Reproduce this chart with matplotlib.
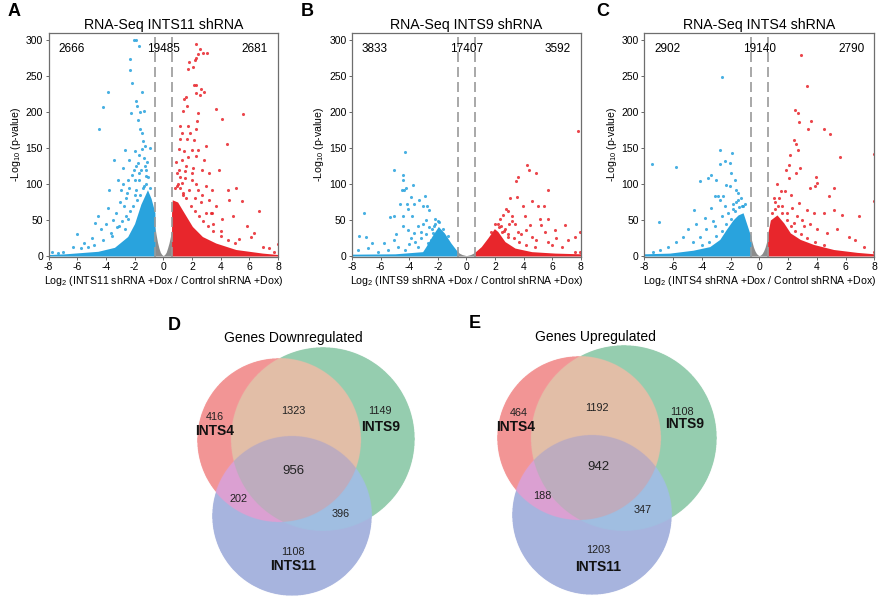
import matplotlib
matplotlib.use("Agg")
import numpy as np
import matplotlib.pyplot as plt
from matplotlib.colors import to_rgba

plt.rcParams['font.family'] = ['Liberation Sans', 'DejaVu Sans']
plt.rcParams['mathtext.fontset'] = 'custom'
plt.rcParams['mathtext.rm'] = 'Liberation Sans'
plt.rcParams['mathtext.it'] = 'Liberation Sans:italic'
plt.rcParams['axes.unicode_minus'] = False

# ---------------- data ----------------
knockdowns = ['INTS11', 'INTS9', 'INTS4']
panel_letters = ['A', 'B', 'C']
counts_down = [2666, 3833, 2902]
counts_same = [19485, 17407, 19140]
counts_up = [2681, 3592, 2790]
fc_cut = 0.58

# scattered (sparse) genes, log2 fold change and -log10 p
a_blue_x = [-2.07, -1.91, -1.72, -2.34, -2.30, -2.21, -3.82, -1.47, -4.21, -1.89, -1.84, -2.25, -1.61, -1.33,
            -4.46, -1.79, -1.63, -1.49, -2.67, -1.98, -1.29, -1.49, -3.40, -2.37, -1.79, -1.33, -2.83, -2.02,
            -1.52, -3.13, -2.48, -1.68, -1.22, -3.75, -2.94, -1.91, -1.33, -4.55, -3.86, -3.29, -2.71, -4.78,
            -4.32, -3.63, -3.06, -2.48, -6.02, -6.28, -5.70, -5.24, -7.77, -7.31, -6.97, -2.0, -1.7, -2.6,
            -2.2, -1.4, -3.0, -2.4, -1.9, -3.5, -4.0, -2.8, -5.0, -5.5, -1.1, -0.9, -1.2,
            -2.9, -2.6, -2.3, -2.1, -1.85, -1.6, -1.4, -1.2, -2.5, -2.0, -1.7, -3.2, -2.7, -3.6, -4.2, -4.8,
            -1.5, -1.05, -0.95, -1.3]
a_blue_y = [300, 300, 291, 273, 258, 240, 228, 228, 207, 215, 209, 199, 200, 201,
            177, 189, 177, 171, 147, 146, 153, 148, 134, 133, 129, 136, 122, 120,
            120, 106, 106, 106, 111, 92, 92, 92, 97, 55, 67, 60, 69, 46,
            37, 32, 41, 51, 30, 13, 11, 13, 6, 4, 6, 85, 140, 80, 112, 160, 75, 95, 125, 50, 45, 100, 25, 18,
            130, 150, 120,
            48, 55, 62, 70, 78, 85, 95, 100, 88, 105, 115, 40, 38, 28, 22, 15,
            62, 110, 95, 125]
a_red_x = [2.31, 2.54, 2.77, 3.08, 2.45, 2.19, 1.79, 2.07, 1.75, 2.31, 2.14, 2.26, 2.61, 2.84, 2.54, 2.26,
           1.61, 1.47, 1.68, 1.38, 3.66, 4.08, 5.59, 2.45, 2.33, 1.17, 1.70, 2.26, 1.33, 1.89, 1.14, 2.17,
           1.68, 2.96, 4.41, 1.10, 1.45, 1.98, 2.45, 1.28, 1.75, 2.31, 2.84, 0.98, 1.52, 2.07, 2.68, 3.19,
           3.89, 0.98, 1.33, 1.79, 2.45, 2.96, 3.43, 4.48, 5.06, 3.19, 3.66, 4.59, 5.52, 6.69, 3.43, 4.13,
           4.83, 5.87, 6.34, 7.39, 7.97, 5.29, 6.11, 6.92, 7.74, 1.2, 1.6, 2.0, 2.6, 3.0, 1.4, 2.2, 3.5, 4.0, 0.9,
           1.0, 1.2, 1.4, 1.6, 1.9, 2.2, 2.5, 2.8, 3.1, 3.5, 4.0, 4.5, 5.0, 1.1, 1.5, 2.3, 2.0, 2.7, 3.3, 0.8]
a_red_y = [294, 288, 282, 282, 280, 272, 269, 263, 260, 275, 237, 238, 232, 228, 223, 227,
           221, 218, 209, 201, 204, 190, 197, 199, 187, 181, 181, 177, 171, 171, 162, 161,
           162, 153, 156, 148, 146, 147, 147, 134, 138, 139, 134, 115, 118, 122, 120, 115,
           120, 97, 102, 92, 92, 97, 92, 92, 95, 78, 69, 78, 76, 62, 60, 51,
           55, 41, 32, 11, 16, 23, 27, 13, 6, 110, 125, 105, 75, 60, 85, 80, 45, 35, 130,
           100, 95, 88, 80, 70, 62, 55, 48, 42, 35, 28, 22, 18, 120, 108, 100, 115, 85, 60, 95]

b_blue_x = [-4.27, -5.04, -4.46, -4.41, -4.34, -3.71, -4.53, -4.22, -3.87, -3.29, -2.90, -7.18, -4.62, -4.15,
            -3.64, -3.06, -2.76, -5.09, -5.32, -4.46, -3.80, -4.06, -2.60, -7.49, -7.00, -6.62, -5.79, -5.04,
            -4.46, -4.06, -3.64, -3.17, -2.83, -7.6, -6.9, -6.2, -5.5, -4.8, -4.3, -3.4, -2.7, -2.5, -2.35,
            -2.24, -3.0, -2.2, -2.6, -1.9, -3.9, -4.9,
            -2.4, -2.2, -2.8, -3.2, -3.6, -4.0, -1.6, -1.3, -2.0, -3.4]
b_blue_y = [145, 119, 113, 105, 91, 99, 92, 95, 82, 78, 83, 60, 72, 72,
            72, 70, 69, 55, 54, 55, 55, 65, 64, 28, 27, 18, 18, 22,
            41, 36, 32, 34, 50, 8, 11, 6, 8, 13, 8, 13, 18, 22, 32,
            41, 45, 52, 40, 47, 25, 30,
            38, 45, 30, 25, 20, 16, 38, 28, 48, 42]
b_red_x = [7.84, 4.27, 4.39, 4.85, 3.64, 3.45, 5.74, 3.06, 3.52, 2.75, 2.94, 3.99, 4.57, 5.04, 5.46,
           2.36, 2.59, 3.17, 4.11, 5.16, 5.69, 6.91, 7.61, 7.96, 2.45, 3.38, 4.43, 5.25, 6.18, 5.48, 6.30,
           7.12, 3.62, 2.94, 4.57, 5.74, 6.67, 7.61, 7.96, 2.2, 2.7, 3.8, 4.9, 3.2, 4.2, 6.0, 2.5,
           2.3, 2.6, 2.9, 3.3, 3.7, 4.2, 4.8, 2.0, 1.7, 3.0]
b_red_y = [173, 126, 120, 115, 110, 104, 92, 80, 82, 65, 63, 69, 76, 69, 70,
           52, 57, 55, 55, 52, 52, 43, 27, 34, 41, 45, 43, 43, 36, 34, 25,
           22, 34, 27, 27, 20, 13, 6, 5, 45, 38, 30, 22, 48, 36, 15, 33,
           40, 35, 30, 25, 20, 15, 12, 44, 33, 45]

c_blue_x = [-2.57, -7.44, -5.82, -2.75, -1.87, -2.41, -2.71, -2.01, -3.34, -3.57, -4.15, -3.04, -1.94, -1.71,
            -2.29, -4.56, -6.98, -3.34, -3.10, -2.87, -2.52, -2.06, -1.59, -1.48, -2.75, -2.41, -3.80, -3.22,
            -4.38, -4.96, -5.31, -5.78, -6.36, -6.93, -7.40, -3.68, -3.10, -4.15, -4.61, -1.3, -1.6, -2.2,
            -1.1, -1.8, -2.6,
            -1.2, -1.4, -1.7, -2.0, -2.3, -2.6, -3.0, -3.5, -4.0, -1.0, -1.5, -1.8]
c_blue_y = [248, 128, 124, 147, 143, 132, 128, 129, 113, 108, 104, 106, 115, 106,
            99, 64, 47, 67, 83, 83, 84, 97, 92, 88, 78, 69, 53, 48,
            44, 37, 27, 20, 13, 9, 6, 37, 41, 27, 20, 80, 75, 60, 70, 65, 55,
            70, 68, 62, 52, 45, 35, 28, 20, 15, 72, 78, 72]
c_red_x = [2.92, 3.32, 2.46, 2.67, 2.79, 3.60, 3.39, 4.48, 4.90, 5.64, 8.0, 2.44, 2.58, 2.67, 2.16, 2.85,
           2.05, 1.89, 2.58, 2.09, 3.97, 4.02, 3.90, 3.51, 5.17, 4.82, 7.96, 1.58, 1.93, 2.28, 2.74, 3.32,
           3.78, 4.48, 5.17, 5.75, 6.91, 1.23, 2.39, 3.09, 4.02, 4.71, 5.41, 6.22, 6.68, 7.26, 7.96, 1.4,
           1.8, 2.2, 3.0, 1.1, 2.6, 3.5,
           0.9, 1.1, 1.3, 1.6, 1.9, 2.2, 2.5, 2.9, 3.3, 3.9, 4.5, 1.0, 1.5, 1.2]
c_red_y = [279, 236, 203, 199, 186, 188, 177, 176, 169, 138, 141, 161, 155, 147, 140, 122,
           126, 120, 115, 108, 110, 102, 97, 95, 95, 84, 76, 69, 60, 67, 74, 64,
           60, 60, 64, 57, 56, 51, 46, 41, 37, 32, 37, 27, 22, 13, 6, 80,
           90, 85, 50, 75, 55, 45,
           60, 65, 70, 60, 50, 42, 35, 30, 25, 20, 15, 80, 90, 100]

# outline of the solid, overplotted cloud of genes
a_blue_env_x = [-8, -6.85, -4.55, -3.4, -2.48, -2.0, -1.56, -1.1, -0.85, -0.58]
a_blue_env_y = [2, 3, 6.5, 12, 27, 45, 72, 92, 80, 60]
a_red_env_x = [0.58, 0.63, 1.0, 1.33, 2.03, 2.73, 3.66, 5.06, 6.92, 8]
a_red_env_y = [60, 78, 75, 64, 41, 27, 18, 9, 4, 2]
b_blue_env_x = [-8, -5.0, -3.06, -2.83, -2.36, -1.96, -1.54, -1.08, -0.58]
b_blue_env_y = [2.5, 3, 6, 13, 29, 41, 32, 18, 5]
b_red_env_x = [0.58, 1.04, 1.5, 1.96, 2.2, 2.7, 3.4, 4.57, 6.2, 8]
b_red_env_y = [5, 13, 25, 38, 34, 20, 11, 6, 4, 3]
c_blue_env_x = [-8, -6.23, -4.61, -3.45, -2.75, -2.29, -1.83, -1.48, -1.13, -0.67, -0.58]
c_blue_env_y = [3, 4, 8, 13, 23, 37, 50, 57, 60, 32, 28]
c_red_env_x = [0.58, 0.77, 1.23, 1.70, 2.16, 2.85, 3.78, 5.17, 6.8, 8]
c_red_env_y = [30, 50, 57, 46, 32, 23, 16, 9, 5, 3]

gray_env_x = [-0.6, -0.5, -0.4, -0.3, -0.2, -0.1, 0, 0.1, 0.2, 0.3, 0.4, 0.5, 0.6]
a_gray_env_y = [43, 30, 19, 11, 5, 2, 0.5, 2, 5, 11, 18, 27, 38]
b_gray_env_y = [6, 4, 3, 2, 1.5, 1, 0.5, 1, 1.5, 2, 3, 4, 6]
c_gray_env_y = [27, 19, 12, 7, 3.5, 1.5, 0.5, 1.5, 3.5, 7, 12, 19, 27]

panels = [
    (a_blue_x, a_blue_y, a_red_x, a_red_y, a_blue_env_x, a_blue_env_y, a_red_env_x, a_red_env_y, a_gray_env_y),
    (b_blue_x, b_blue_y, b_red_x, b_red_y, b_blue_env_x, b_blue_env_y, b_red_env_x, b_red_env_y, b_gray_env_y),
    (c_blue_x, c_blue_y, c_red_x, c_red_y, c_blue_env_x, c_blue_env_y, c_red_env_x, c_red_env_y, c_gray_env_y),
]

# Venn counts: INTS4 only, INTS4&9, INTS9 only, all three, INTS4&11, INTS9&11, INTS11 only
venn_titles = ['Genes Downregulated', 'Genes Upregulated']
venn_letters = ['D', 'E']
venn_sets = ['INTS4', 'INTS9', 'INTS11']
down_counts = [416, 1323, 1149, 956, 202, 396, 1108]
up_counts = [464, 1192, 1108, 942, 188, 347, 1203]

blue = '#29A3DD'
red = '#E8262C'
gray = '#8C8C8C'

fig = plt.figure(figsize=(8.81, 5.97), dpi=100)
W, H = 881, 597

# ---------------- volcano plots ----------------
ax_left = [48.5, 352, 644.3]
ax_width = [229.5, 228.7, 230]
for i in range(3):
    bx, by, rx, ry, bex, bey, rex, rey, gey = panels[i]
    ax = fig.add_axes([ax_left[i] / W, 1 - 256.7 / H, ax_width[i] / W, 223.9 / H])
    ax.fill_between(gray_env_x, 0, gey, color=gray, lw=0)
    ax.fill_between(bex, 0, bey, color=blue, lw=0)
    ax.fill_between(rex, 0, rey, color=red, lw=0)
    ax.scatter(bx, by, s=5, color=blue, lw=0, alpha=0.85)
    ax.scatter(rx, ry, s=5, color=red, lw=0, alpha=0.85)
    for xc in (-fc_cut, fc_cut):
        ax.plot([xc, xc], [-1, 310], color='#9A9A9A', lw=1.2, ls=(0, (6, 3)))
    ax.set_xlim(-8, 8)
    ax.set_ylim(-1, 310)
    ax.set_xticks(range(-8, 9, 2))
    ax.set_yticks(range(0, 301, 50))
    ax.tick_params(labelsize=7.5, length=2.5, width=0.7, color='#666666', pad=1.5)
    for sp in ax.spines.values():
        sp.set_color('#6E6E6E')
        sp.set_linewidth(0.9)
    ax.text(-6.4, 287, str(counts_down[i]), ha='center', va='center', fontsize=8.5)
    ax.text(0, 287, str(counts_same[i]), ha='center', va='center', fontsize=8.5)
    ax.text(6.4, 287, str(counts_up[i]), ha='center', va='center', fontsize=8.5)
    ax.set_title('RNA-Seq ' + knockdowns[i] + ' shRNA', fontsize=10.2, pad=3)
    ax.set_xlabel(r'Log$_2$ (' + knockdowns[i] + ' shRNA +Dox / Control shRNA +Dox)', fontsize=7.6, labelpad=1)
    ax.set_ylabel(r'-Log$_{10}$ (p-value)', fontsize=7.6, labelpad=2)

fig.text(8 / W, 1 - 12 / H, 'A', fontsize=13, fontweight='bold', va='center', ha='left')
fig.text(301 / W, 1 - 12 / H, 'B', fontsize=13, fontweight='bold', va='center', ha='left')
fig.text(596 / W, 1 - 12 / H, 'C', fontsize=13, fontweight='bold', va='center', ha='left')

# ---------------- Venn diagrams ----------------
# colour for each region, indexed by in_red + 2*in_green + 4*in_blue
region_colors = ['#FFFFFF', '#F39696', '#96CDAF', '#E2BEA8', '#A8B4DE', '#DCA0D2', '#A0BEE1', '#BEACBE']
venn_boxes = [(150, 430), (430, 730)]
circles = [
    [(279, 440, 82), (323, 439, 92), (292, 516, 80)],
    [(579, 438, 82), (624, 438, 93), (592, 515, 80)],
]
count_pos = [
    [(215, 417), (293, 411), (380, 411), (293, 471), (238, 499), (341, 514), (293, 552)],
    [(519, 413), (597, 408), (682, 412), (598, 467), (542, 496), (643, 510), (598, 550)],
]
set_label_pos = [
    [(215, 431), (381, 427), (293, 566)],
    [(516, 427), (685, 424), (598, 567)],
]
title_pos = [(293, 338), (595, 337)]
letter_pos = [(168, 325), (469, 323)]
venn_counts = [down_counts, up_counts]

palette = np.array([to_rgba(c) for c in region_colors])
palette[0, 3] = 0.0

for k in range(2):
    x0, x1 = venn_boxes[k]
    vax = fig.add_axes([x0 / W, 0, (x1 - x0) / W, 297 / H])
    ss = 4
    gx = np.linspace(x0, x1, (x1 - x0) * ss)
    gy = np.linspace(300, 597, 297 * ss)
    XX, YY = np.meshgrid(gx, gy)
    code = np.zeros(XX.shape, dtype=int)
    for bit, (cx, cy, r) in zip([1, 2, 4], circles[k]):
        code += bit * ((XX - cx) ** 2 + (YY - cy) ** 2 <= r ** 2)
    img = palette[code]
    vax.imshow(img, extent=(x0, x1, 597, 300), origin='upper', interpolation='antialiased', aspect='auto')
    vax.set_xlim(x0, x1)
    vax.set_ylim(597, 300)
    vax.axis('off')
    for j, (tx, ty) in enumerate(count_pos[k]):
        fs = 9.5 if j == 3 else 7.8
        vax.text(tx, ty, str(venn_counts[k][j]), ha='center', va='center', fontsize=fs, color='#222222')
    for j, (tx, ty) in enumerate(set_label_pos[k]):
        vax.text(tx, ty, venn_sets[j], ha='center', va='center', fontsize=10, fontweight='bold', color='#111111')
    vax.text(title_pos[k][0], title_pos[k][1], venn_titles[k], ha='center', va='center', fontsize=10)
    vax.text(letter_pos[k][0], letter_pos[k][1], venn_letters[k], ha='left', va='center', fontsize=13, fontweight='bold')

fig.savefig('out.png', dpi=100)
